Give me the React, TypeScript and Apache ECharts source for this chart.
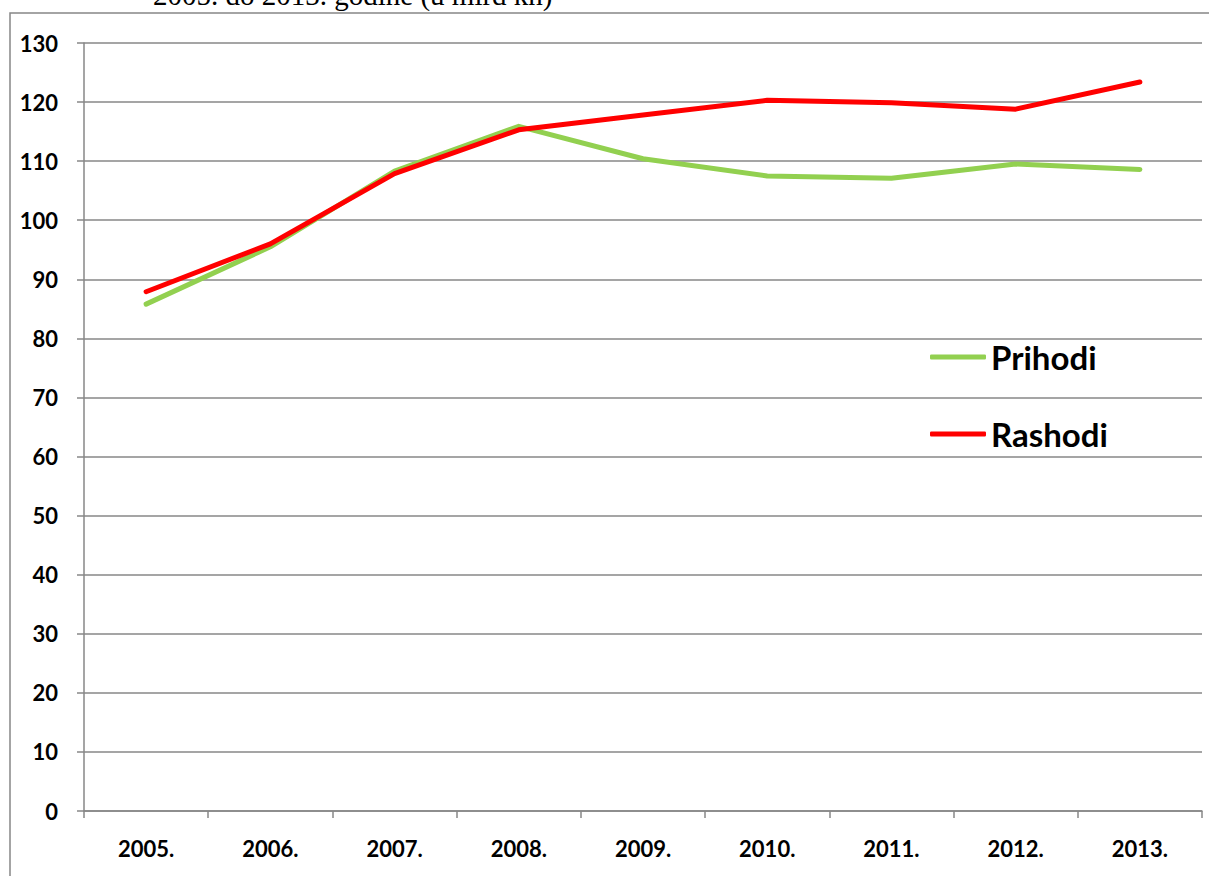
import React, { useEffect, useRef } from "react";
import * as echarts from "echarts";

// Years shown on the category axis
const years = ["2005.", "2006.", "2007.", "2008.", "2009.", "2010.", "2011.", "2012.", "2013."];
// Revenue (mlrd kn)
const prihodi = [85.8, 95.5, 108.3, 115.9, 110.4, 107.5, 107.1, 109.5, 108.6];
// Expenditure (mlrd kn)
const rashodi = [87.9, 96.0, 107.9, 115.3, 117.8, 120.3, 119.9, 118.8, 123.4];

const titleText = "2005. do 2013. godine (u mlrd kn)";

const GREY = "#878787";
const FONT = "Lato, 'Open Sans', sans-serif";

export default function App() {
  const ref = useRef<HTMLDivElement>(null);

  useEffect(() => {
    if (!ref.current) return;
    const chart = echarts.init(ref.current, undefined, { renderer: "svg" });
    chart.setOption({
      animation: false,
      backgroundColor: "#ffffff",
      grid: { left: 84, right: 7, top: 43, bottom: 65, containLabel: false },
      graphic: [
        {
          type: "rect",
          shape: { x: 10, y: 13, width: 1215, height: 880 },
          style: { fill: "none", stroke: GREY, lineWidth: 1.5 },
          silent: true,
        },
        {
          type: "text",
          x: 153,
          y: -5,
          style: {
            text: titleText,
            font: "29px 'Liberation Serif', 'Times New Roman', serif",
            fill: "#000",
            verticalAlign: "middle",
          },
          silent: true,
        },
      ],
      legend: {
        data: ["Prihodi", "Rashodi"],
        orient: "vertical",
        left: 930,
        top: 339,
        padding: 0,
        itemGap: 41,
        itemWidth: 56,
        itemHeight: 5,
        itemTextGap: 3,
        icon: "roundRect",
        textStyle: {
          fontFamily: FONT,
          fontWeight: "bold",
          fontSize: 33,
          lineHeight: 36,
          color: "#000",
        },
      },
      xAxis: {
        type: "category",
        data: years,
        boundaryGap: true,
        axisLine: { lineStyle: { color: GREY, width: 1.5 } },
        axisTick: { show: true, length: 7, inside: false, lineStyle: { color: GREY, width: 1.5 } },
        axisLabel: {
          margin: 26,
          fontFamily: FONT,
          fontWeight: "bold",
          fontSize: 22,
          color: "#000",
        },
        splitLine: { show: false },
      },
      yAxis: {
        type: "value",
        min: 0,
        max: 130,
        interval: 10,
        axisLine: { show: true, lineStyle: { color: GREY, width: 1.5 } },
        axisTick: { show: true, length: 7, lineStyle: { color: GREY, width: 1.5 } },
        axisLabel: {
          margin: 26,
          fontFamily: FONT,
          fontWeight: "bold",
          fontSize: 22,
          color: "#000",
        },
        splitLine: { show: true, lineStyle: { color: GREY, width: 1.5 } },
      },
      series: [
        {
          name: "Prihodi",
          type: "line",
          data: prihodi,
          symbol: "none",
          color: "#92D050",
          lineStyle: { width: 5, color: "#92D050", cap: "round", join: "round" },
        },
        {
          name: "Rashodi",
          type: "line",
          data: rashodi,
          symbol: "none",
          color: "#FF0000",
          lineStyle: { width: 5, color: "#FF0000", cap: "round", join: "round" },
        },
      ],
    });
    return () => chart.dispose();
  }, []);

  return (
    <div
      ref={ref}
      style={{ position: "fixed", left: 0, top: 0, width: 1209, height: 876 }}
    />
  );
}
